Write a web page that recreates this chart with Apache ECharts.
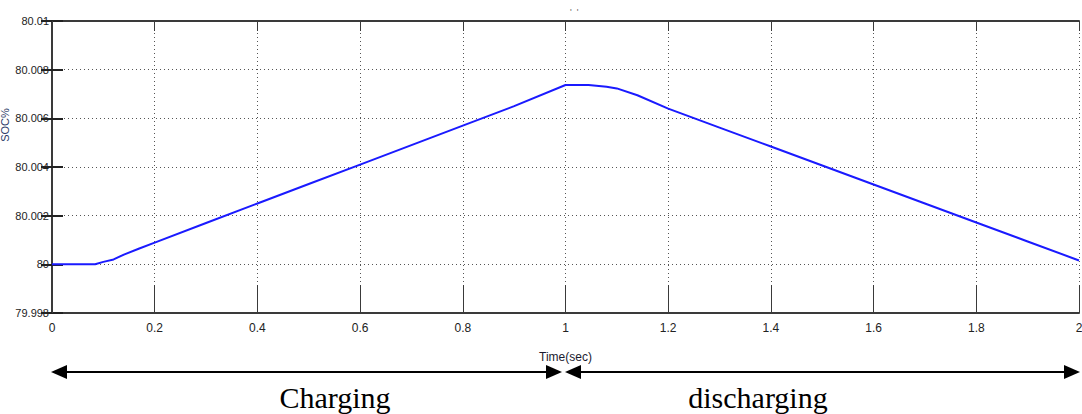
<!DOCTYPE html>
<html>
<head>
<meta charset="utf-8">
<script src="https://cdn.jsdelivr.net/npm/echarts@6/dist/echarts.min.js"></script>
<style>
html,body{margin:0;padding:0;background:#fff;}
#chart{width:1082px;height:414px;}
</style>
</head>
<body>
<div id="chart"></div>
<script>
// Data
const timeValues = [0, 0.084, 0.1, 0.12, 0.14, 0.17, 0.2, 0.3, 0.4, 0.5, 0.6, 0.7, 0.8, 0.9, 1.0, 1.045, 1.08, 1.1, 1.14, 1.2, 1.3, 1.4, 1.5, 1.6, 1.7, 1.8, 1.9, 2.0];
const socValues  = [80, 80, 80.0001, 80.0002, 80.0004, 80.00065, 80.00089, 80.0017, 80.0025, 80.0033, 80.0041, 80.0049, 80.0057, 80.0065, 80.00737, 80.00737, 80.0073, 80.00723, 80.00695, 80.0064, 80.00562, 80.00484, 80.00406, 80.00328, 80.0025, 80.00172, 80.00094, 80.00016];
const xTickLabels = ['0','0.2','0.4','0.6','0.8','1','1.2','1.4','1.6','1.8','2'];
const yTickLabels = ['79.998','80','80.002','80.004','80.006','80.008','80.01'];
const xName = 'Time(sec)';
const yName = 'SOC%';
const phaseLabels = ['Charging', 'discharging'];

const seriesData = timeValues.map((t, i) => [t, socValues[i]]);

const chart = echarts.init(document.getElementById('chart'), null, {renderer: 'svg'});
const narrow = '"Liberation Sans", Arial, sans-serif';
const frame = {show: true, lineStyle: {color: '#3a3a3a', width: 2}};
const dotted = {show: true, lineStyle: {color: '#555', width: 1, type: [1, 3]}};

const arrowY = 372;
function head(tipX, dir) { // dir: -1 points left, +1 points right
  const base = tipX - dir * 16;
  return {type: 'polygon', shape: {points: [[tipX, arrowY], [base, arrowY - 7], [base, arrowY + 7]]}, style: {fill: '#000'}};
}

chart.setOption({
  animation: false,
  backgroundColor: '#fff',
  title: {text: "'  '", left: 565, top: 2, textStyle: {fontSize: 9, color: '#666', fontWeight: 'normal'}},
  grid: {left: 52, right: 3, top: 21, bottom: 101, containLabel: false, outerBoundsMode: 'none'},
  xAxis: [{
    type: 'value', min: 0, max: 2, interval: 0.2, position: 'bottom',
    name: xName, nameLocation: 'middle', nameGap: 38, nameMoveOverlap: false,
    nameTextStyle: {fontFamily: narrow, fontSize: 12, color: '#1a1a2e'},
    axisLine: frame,
    axisTick: {show: true, inside: true, length: 28, lineStyle: {color: '#3a3a3a', width: 1}},
    axisLabel: {fontFamily: narrow, fontSize: 12, color: '#222', margin: 9,
      formatter: (v) => xTickLabels[Math.round(v / 0.2)]},
    splitLine: dotted
  }, {
    type: 'value', min: 0, max: 2, interval: 0.2, position: 'top',
    axisLine: frame,
    axisTick: {show: true, inside: true, length: 10, lineStyle: {color: '#3a3a3a', width: 1}},
    axisLabel: {show: false}, splitLine: {show: false}
  }],
  yAxis: [{
    type: 'value', min: 79.998, max: 80.01, interval: 0.002, position: 'left',
    axisLine: frame,
    axisTick: {show: true, inside: true, length: 11, lineStyle: {color: '#222', width: 2}},
    axisLabel: {fontFamily: narrow, fontSize: 11, color: '#222', margin: 3,
      formatter: (v) => yTickLabels[Math.round((v - 79.998) / 0.002)]},
    splitLine: dotted
  }, {
    type: 'value', min: 79.998, max: 80.01, interval: 0.002, position: 'right',
    axisLine: frame,
    axisTick: {show: true, inside: true, length: 11, lineStyle: {color: '#222', width: 2}},
    axisLabel: {show: false}, splitLine: {show: false}
  }],
  series: [{
    type: 'line', xAxisIndex: 0, yAxisIndex: 0,
    data: seriesData, showSymbol: false, smooth: false,
    lineStyle: {color: '#1a1aff', width: 2}
  }],
  graphic: [
    {type: 'text', x: 5, y: 125, rotation: Math.PI / 2,
      style: {text: yName, font: '11px "Liberation Sans", Arial, sans-serif', fill: '#2b3a67', textAlign: 'center', textVerticalAlign: 'middle'}},
    {type: 'line', shape: {x1: 60, y1: arrowY, x2: 552, y2: arrowY}, style: {stroke: '#000', lineWidth: 2}},
    head(51, -1), head(562, 1),
    {type: 'line', shape: {x1: 574, y1: arrowY, x2: 1070, y2: arrowY}, style: {stroke: '#000', lineWidth: 2}},
    head(565, -1), head(1080, 1),
    {type: 'text', x: 335, y: 397, style: {text: phaseLabels[0], font: '30px "Liberation Serif", "Times New Roman", serif', fill: '#000', textAlign: 'center', textVerticalAlign: 'middle'}},
    {type: 'text', x: 758, y: 397, style: {text: phaseLabels[1], font: '30px "Liberation Serif", "Times New Roman", serif', fill: '#000', textAlign: 'center', textVerticalAlign: 'middle'}}
  ]
});
</script>
</body>
</html>
